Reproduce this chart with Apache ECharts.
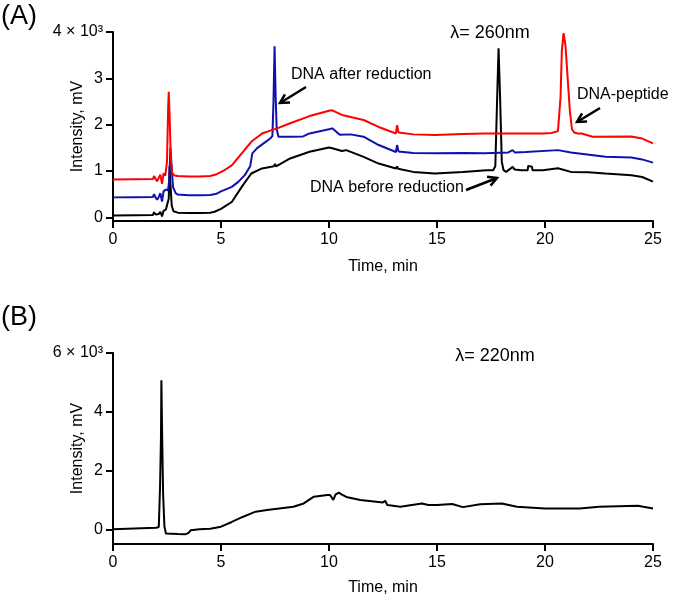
<!DOCTYPE html>
<html>
<head>
<meta charset="utf-8">
<script src="https://cdn.jsdelivr.net/npm/echarts@6/dist/echarts.min.js"></script>
<style>html,body{margin:0;padding:0;background:#fff}#c{width:675px;height:602px}</style>
</head>
<body>
<div id="c"></div>
<script>
// ---- Data (time in min, intensity in mV) ----
const xTicks = [0, 5, 10, 15, 20, 25];
const yTicksA = [0, 1000, 2000, 3000, 4000];
const yTicksB = [0, 2000, 4000, 6000];

const dnaBefore = [[0,40],[1,45],[1.85,50],[1.9,110],[1.97,60],[2.04,30],[2.12,70],[2.19,120],[2.27,20],[2.34,140],[2.45,170],[2.52,150],[2.58,400],[2.62,1100],[2.66,700],[2.72,250],[2.8,130],[3,100],[3.5,95],[4,95],[4.5,100],[4.7,120],[5.0,180],[5.5,330],[5.96,656],[6.4,945],[6.9,1055],[7.45,1100],[7.5,1150],[7.55,1100],[8.2,1270],[9.1,1414],[10,1508],[10.15,1490],[10.6,1430],[10.8,1450],[11.6,1305],[12.3,1160],[13.1,1055],[13.15,1100],[13.2,1050],[13.9,980],[14.9,945],[16.2,980],[17.3,1017],[17.6,1017],[17.7,1100],[17.78,2500],[17.85,3650],[17.92,2600],[18.0,1200],[18.08,1017],[18.2,980],[18.4,1050],[18.5,1090],[18.6,1030],[18.9,1017],[19.2,1017],[19.22,1110],[19.4,1090],[19.42,1017],[19.9,1017],[20.6,1060],[21.2,980],[22,970],[22.8,945],[24,910],[24.5,870],[25,770]];

const dnaAfter = [[0,430],[1,435],[1.85,440],[1.9,500],[1.97,430],[2.04,380],[2.12,440],[2.19,520],[2.27,340],[2.34,560],[2.45,600],[2.55,580],[2.6,800],[2.66,1500],[2.7,1200],[2.78,650],[2.9,520],[3,490],[3.5,475],[4,475],[4.5,480],[4.8,510],[5.0,560],[5.5,656],[5.8,765],[6.1,910],[6.35,1100],[6.41,1125],[6.45,1380],[6.5,1414],[6.66,1487],[6.97,1595],[7.1,1640],[7.28,1700],[7.38,1760],[7.43,2500],[7.48,3690],[7.53,2600],[7.58,1900],[7.66,1740],[8.2,1740],[8.8,1745],[9.1,1810],[10,1900],[10.15,1920],[10.5,1780],[11.0,1790],[11.6,1740],[12.3,1560],[13.1,1410],[13.15,1560],[13.22,1420],[13.9,1390],[14.9,1380],[16.2,1390],[17.2,1380],[18.3,1400],[18.5,1450],[18.6,1400],[19.1,1410],[20.6,1450],[21.2,1400],[22.8,1305],[24,1290],[24.5,1250],[25,1180]];

const dnaPeptide = [[0,815],[1,820],[1.85,825],[1.9,890],[1.97,830],[2.04,780],[2.12,850],[2.19,920],[2.27,720],[2.34,950],[2.42,900],[2.5,1200],[2.55,2300],[2.58,2710],[2.62,2200],[2.68,1200],[2.75,950],[2.85,900],[3,890],[3.5,880],[4,880],[4.5,890],[4.8,930],[5.1,1000],[5.5,1120],[5.96,1380],[6.4,1630],[6.9,1810],[7.28,1870],[7.6,1920],[8.2,2030],[9.1,2185],[10,2300],[10.15,2310],[10.6,2210],[11.6,2100],[12.3,1950],[13.1,1810],[13.15,1990],[13.22,1830],[13.9,1790],[14.9,1775],[16.2,1800],[17.2,1810],[19.8,1810],[19.85,1840],[19.9,1810],[20.3,1820],[20.6,1860],[20.68,1880],[20.72,2600],[20.78,3600],[20.86,3975],[20.95,3700],[21.05,3000],[21.15,2300],[21.25,1900],[21.35,1830],[21.5,1810],[21.55,1840],[21.7,1810],[22.2,1740],[24,1745],[24.5,1700],[25,1595]];

const trace220 = [[0,0],[1,30],[2,55],[2.12,80],[2.18,1500],[2.22,3100],[2.24,5070],[2.28,3000],[2.32,1200],[2.38,100],[2.45,-140],[3,-160],[3.35,-170],[3.5,-120],[3.6,-30],[4,0],[4.5,20],[5,90],[5.5,250],[6,420],[6.6,600],[7.13,655],[7.6,700],[8.35,770],[8.83,880],[9.3,1110],[9.92,1165],[10.05,1170],[10.2,1000],[10.3,1180],[10.45,1245],[10.6,1180],[10.8,1100],[11.45,1000],[12.5,915],[12.6,970],[12.7,825],[13.3,765],[14.3,880],[14.6,830],[15,825],[15.7,860],[16.2,755],[17,850],[18,880],[18.7,765],[20,710],[21.6,710],[22.5,765],[24.3,800],[25,710]];

// ---- Styling ----
const FF = "'Liberation Sans', Arial, sans-serif";
function yFmtA(v){ return v === 4000 ? '4 × 10³' : String(v/1000); }
function yFmtB(v){ return v === 6000 ? '6 × 10³' : String(v/1000); }

function xAxisCfg(gridIndex, gap){
  return {
    type: 'value', gridIndex, min: 0, max: 25, interval: 5,
    name: 'Time, min', nameLocation: 'middle', nameGap: gap, nameMoveOverlap: false,
    nameTextStyle: {fontFamily: FF, fontSize: 16, color: '#000', verticalAlign: 'top'},
    axisLine: {show: true, onZero: false, lineStyle: {color: '#000', width: 2}},
    axisTick: {show: true, inside: false, length: 7, lineStyle: {color: '#000', width: 2}},
    axisLabel: {fontFamily: FF, fontSize: 16, color: '#000', margin: 11},
    splitLine: {show: false}
  };
}
function yAxisCfg(gridIndex, min, max, ticks, fmt){
  return {
    type: 'value', gridIndex, min, max,
    name: 'Intensity, mV', nameLocation: 'middle', nameGap: 27, nameRotate: 90, nameMoveOverlap: false,
    nameTextStyle: {fontFamily: FF, fontSize: 16, color: '#000'},
    axisLine: {show: true, onZero: false, lineStyle: {color: '#000', width: 2}},
    axisTick: {show: true, inside: false, length: 7, customValues: ticks, lineStyle: {color: '#000', width: 2}},
    axisLabel: {fontFamily: FF, fontSize: 16, color: '#000', margin: 10, customValues: ticks, formatter: fmt},
    splitLine: {show: false}
  };
}
function lineSeries(data, color, xi, yi){
  return {type: 'line', data, xAxisIndex: xi, yAxisIndex: yi, showSymbol: false, symbol: 'none',
    lineStyle: {color, width: 2}, itemStyle: {color}, animation: false, silent: true};
}
function textEl(text, x, y, size, align){
  return {type: 'text', x, y, silent: true,
    style: {text, font: size + 'px ' + FF, fill: '#000', align: align || 'left', verticalAlign: 'middle'}};
}
function arrowEls(x1, y1, x2, y2){
  const a = Math.atan2(y2 - y1, x2 - x1), L = 10, W = 0.5;
  const p1 = [x2 - L*Math.cos(a - W), y2 - L*Math.sin(a - W)];
  const p2 = [x2 - L*Math.cos(a + W), y2 - L*Math.sin(a + W)];
  return [
    {type: 'line', silent: true, shape: {x1, y1, x2, y2}, style: {stroke: '#000', lineWidth: 2.5}},
    {type: 'polyline', silent: true, shape: {points: [p1, [x2, y2], p2]}, style: {stroke: '#000', lineWidth: 2.5, fill: null}}
  ];
}

const chart = echarts.init(document.getElementById('c'), null, {renderer: 'canvas'});
chart.setOption({
  backgroundColor: '#fff',
  animation: false,
  grid: [
    {left: 113, width: 540, top: 32, height: 189},
    {left: 113, width: 540, top: 353, height: 191}
  ],
  xAxis: [xAxisCfg(0, 38), xAxisCfg(1, 36)],
  yAxis: [yAxisCfg(0, -80, 4000, yTicksA, yFmtA), yAxisCfg(1, -500, 6000, yTicksB, yFmtB)],
  series: [
    lineSeries(dnaBefore, '#000000', 0, 0),
    lineSeries(dnaAfter, '#1010b0', 0, 0),
    lineSeries(dnaPeptide, '#ff0000', 0, 0),
    lineSeries(trace220, '#000000', 1, 1)
  ],
  graphic: [
    textEl('(A)', 1, 17, 27),
    textEl('(B)', 1, 318, 27),
    textEl('λ= 260nm', 490, 33, 18, 'center'),
    textEl('λ= 220nm', 495, 356, 18, 'center'),
    textEl('DNA after reduction', 291, 75, 16),
    textEl('DNA before reduction', 310, 188, 16),
    textEl('DNA-peptide', 577, 95, 16),
    ...arrowEls(306, 87, 280, 103),
    ...arrowEls(466, 190, 497, 178),
    ...arrowEls(600, 108, 577, 122)
  ]
});
</script>
</body>
</html>
